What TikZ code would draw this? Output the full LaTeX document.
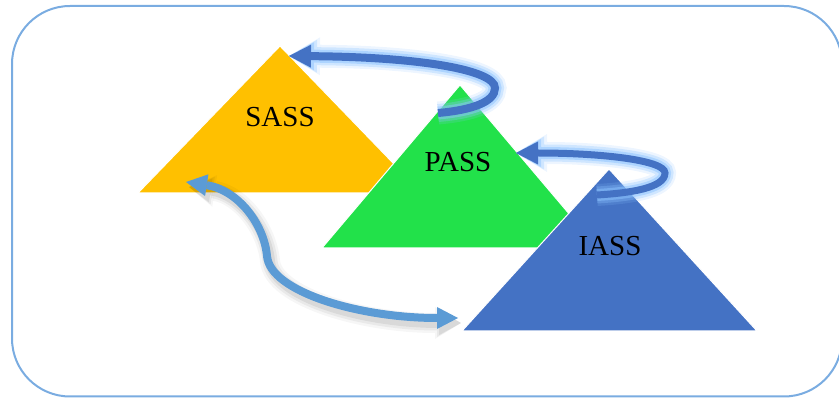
\documentclass[tikz,border=0pt]{standalone}
\usepackage{fontspec}
\setmainfont{Liberation Serif}
\usetikzlibrary{arrows.meta}

\definecolor{frameblue}{RGB}{122,172,225}
\definecolor{sassyellow}{RGB}{255,192,0}
\definecolor{passgreen}{RGB}{34,225,74}
\definecolor{iassblue}{RGB}{68,114,196}
\definecolor{linkblue}{RGB}{91,155,213}
\definecolor{glowblue}{RGB}{140,195,255}

\tikzset{
  tri/.style={draw=white,line width=1pt},
  lbl/.style={font=\fontsize{29}{30}\selectfont,inner sep=0pt,text=black},
  darkhead/.tip={Triangle[length=22pt,width=23pt,line width=0pt]},
  lighthead/.tip={Triangle[length=21pt,width=22pt,line width=0pt]},
  glowarrow/.style={
    preaction={draw=glowblue,opacity=0.16,line width=#1+15pt,
      -{Triangle[length=31pt,width=38pt,line width=0pt]}},
    preaction={draw=glowblue,opacity=0.3,line width=#1+10pt,
      -{Triangle[length=28pt,width=33pt,line width=0pt]}},
    preaction={draw=glowblue,opacity=0.5,line width=#1+5pt,
      -{Triangle[length=25pt,width=28pt,line width=0pt]}},
    draw=iassblue,line width=#1,-{darkhead}},
  shadowarrow/.style={
    preaction={draw=black,opacity=0.035,line width=20pt,
      transform canvas={shift={(3pt,-5pt)}},
      {Triangle[length=26pt,width=32pt,line width=0pt]}-{Triangle[length=26pt,width=32pt,line width=0pt]}},
    preaction={draw=black,opacity=0.05,line width=15pt,
      transform canvas={shift={(3pt,-5pt)}},
      {Triangle[length=24pt,width=28pt,line width=0pt]}-{Triangle[length=24pt,width=28pt,line width=0pt]}},
    preaction={draw=black,opacity=0.07,line width=10pt,
      transform canvas={shift={(3pt,-5pt)}},
      {Triangle[length=22pt,width=24pt,line width=0pt]}-{Triangle[length=22pt,width=24pt,line width=0pt]}},
    draw=linkblue,line width=8pt,{lighthead}-{lighthead}},
}

\begin{document}
\begin{tikzpicture}[x=1pt,y=-1pt]
\useasboundingbox (0,0) rectangle (839,398);

% outer frame
\draw[frameblue,line width=2pt,rounded corners=58pt] (12,6) rectangle (842,396.5);

% three layers
\coordinate (sassA) at (280,46);
\coordinate (sassL) at (138,193);
\coordinate (sassR) at (422,193);
\coordinate (passA) at (460,85);
\coordinate (passL) at (322,248);
\coordinate (passR) at (598,248);
\coordinate (iassA) at (609,169);
\coordinate (iassL) at (462,331);
\coordinate (iassR) at (757,331);

\fill[sassyellow,tri] (sassA) -- (sassR) -- (sassL) -- cycle;
\fill[passgreen,tri] (passA) -- (passR) -- (passL) -- cycle;
\fill[iassblue,tri] (iassA) -- (iassR) -- (iassL) -- cycle;

\node[lbl] (sass) at (280,117) {SASS};
\node[lbl] (pass) at (458,162) {PASS};
\node[lbl] (iass) at (610,246) {IASS};

% links between layers
\coordinate (passLoop) at (438,113);
\coordinate (passTurn) at (495,88);
\coordinate (sassIn) at (289,56);
\coordinate (iassLoop) at (597,195);
\coordinate (iassTurn) at (665,173);
\coordinate (passIn) at (516,153);
\coordinate (sassFoot) at (186,182);
\coordinate (linkBend) at (267,256);
\coordinate (iassFoot) at (458,318);

\draw[glowarrow=8pt] (passLoop) .. controls (472,110) and (495,102) .. (passTurn)
  .. controls (495,70) and (420,57) .. (sassIn);
\draw[glowarrow=7pt] (iassLoop) .. controls (630,193) and (665,188) .. (iassTurn)
  .. controls (665,160) and (600,153) .. (passIn);
\draw[shadowarrow] (sassFoot) .. controls (238,190) and (264,224) .. (linkBend)
  .. controls (270,292) and (360,318) .. (iassFoot);
\end{tikzpicture}
\end{document}
